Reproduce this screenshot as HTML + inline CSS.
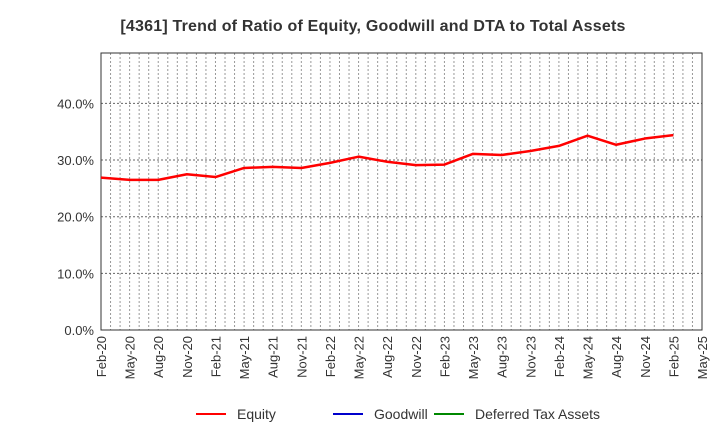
<!DOCTYPE html>
<html><head><meta charset="utf-8"><style>
body{margin:0;background:#fff;font-family:"Liberation Sans",Arial,sans-serif}
svg text{font-family:"Liberation Sans",Arial,sans-serif}
</style></head><body>
<svg id="chart" width="720" height="440" xmlns="http://www.w3.org/2000/svg">
<text x="373" y="31" text-anchor="middle" font-size="16" letter-spacing="0.2" font-weight="bold" fill="#333">[4361]  Trend of Ratio of Equity, Goodwill and DTA to Total Assets</text>
<g id="grid"></g><g id="axes"></g><g id="series"></g>
<g>
<g><line x1="196" y1="414" x2="226" y2="414" stroke="#f00" stroke-width="2"/><text x="237" y="419" font-size="14" fill="#333">Equity</text></g>
<g><line x1="333" y1="414" x2="363" y2="414" stroke="#00c" stroke-width="2"/><text x="374" y="419" font-size="14" fill="#333">Goodwill</text></g>
<g><line x1="434" y1="414" x2="464" y2="414" stroke="#080" stroke-width="2"/><text x="475" y="419" font-size="14" fill="#333">Deferred Tax Assets</text></g>
</g>
</svg>
<script>
const categories=["Feb-20","May-20","Aug-20","Nov-20","Feb-21","May-21","Aug-21","Nov-21","Feb-22","May-22","Aug-22","Nov-22","Feb-23","May-23","Aug-23","Nov-23","Feb-24","May-24","Aug-24","Nov-24","Feb-25","May-25"];
const equity=[26.9,26.5,26.5,27.5,27.0,28.6,28.8,28.6,29.5,30.6,29.7,29.1,29.2,31.1,30.9,31.6,32.5,34.3,32.7,33.8,34.4];
const yTicks=[0,10,20,30,40];
const yTickLabels=["0.0%","10.0%","20.0%","30.0%","40.0%"];
const L=101,R=702,T=53,B=330,YMAX=48.9;
const NS="http://www.w3.org/2000/svg";
const xq=i=>L+i*(R-L)/(categories.length-1);
const xm=m=>L+m*(R-L)/((categories.length-1)*3);
const y=v=>B-v/YMAX*(B-T);
function mk(p,t,a){const e=document.createElementNS(NS,t);for(const k in a)e.setAttribute(k,a[k]);p.appendChild(e);return e;}
const grid=document.getElementById('grid'),axes=document.getElementById('axes'),series=document.getElementById('series');
for(let m=1;m<(categories.length-1)*3;m++){const l=mk(grid,'line',{x1:xm(m),x2:xm(m),y1:T,y2:B,stroke:'#999','stroke-dasharray':'2,2','stroke-width':1});

}
yTicks.forEach((v,i)=>{if(v>0){const g=mk(grid,'line',{x1:L,x2:R,y1:y(v),y2:y(v),stroke:'#666','stroke-dasharray':'2,2','stroke-width':1});

}
const t=mk(axes,'text',{x:L-7,y:y(v)+5,'text-anchor':'end','font-size':13,fill:'#333'});t.textContent=yTickLabels[i];

});
const fr=mk(axes,'rect',{x:L,y:T,width:R-L,height:B-T,fill:'none',stroke:'#333','stroke-width':1});


categories.forEach((c,i)=>{const t=mk(axes,'text',{transform:`translate(${xq(i)+5},${B+6}) rotate(-90)`,'text-anchor':'end','font-size':13,fill:'#333'});t.textContent=c;

});
const pl=mk(series,'polyline',{points:equity.map((v,i)=>xq(i)+','+y(v)).join(' '),fill:'none',stroke:'#f00','stroke-width':2.5,'stroke-linejoin':'round'});


</script>
</body></html>
